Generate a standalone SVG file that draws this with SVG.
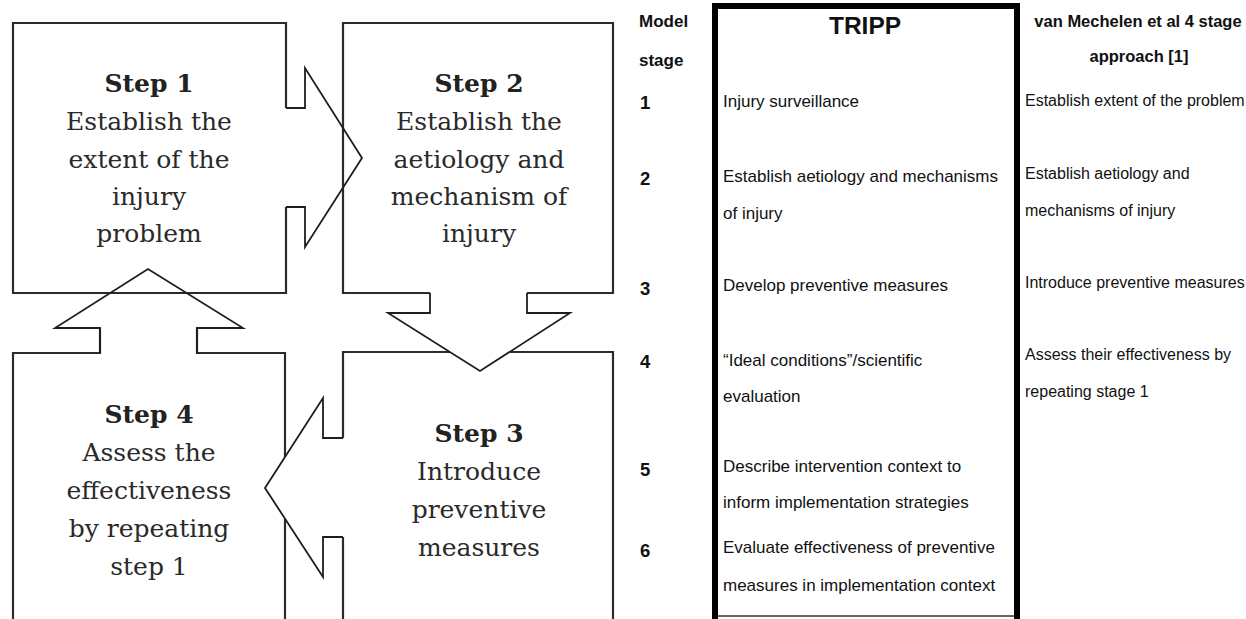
<svg xmlns="http://www.w3.org/2000/svg" width="1246" height="619" viewBox="0 0 1246 619">
<style>
.box{fill:none;stroke:#2b2b2b;stroke-width:2.2;stroke-linejoin:miter}
.arr{fill:none;stroke:#1e1e1e;stroke-width:1.8;stroke-linejoin:miter}
.st{font-family:"DejaVu Serif",serif;font-weight:bold;font-size:25px;fill:#222;text-anchor:middle}
.tx{font-family:"DejaVu Serif",serif;font-size:25px;fill:#2a2a2a;text-anchor:middle}
.hd{font-family:"Liberation Sans",Arial,sans-serif;font-weight:bold;font-size:16.5px;fill:#111}
.num{font-family:"Liberation Sans",Arial,sans-serif;font-weight:bold;font-size:17px;fill:#111}
.n{font-family:"Liberation Sans",Arial,sans-serif;font-weight:bold;font-size:18.5px;fill:#111}
.tr{font-family:"Liberation Sans",Arial,sans-serif;font-size:17px;fill:#111}
.vm{font-family:"Liberation Sans",Arial,sans-serif;font-size:16px;fill:#111}
</style>
<rect width="1246" height="619" fill="#fff"/>
<g id="step1">
<path class="box" d="M286,108 V23 H13 V293 H286 V207"/>
<text class="st" x="149" y="92">Step 1</text>
<text class="tx" x="149" y="130">Establish the</text>
<text class="tx" x="149" y="168">extent of the</text>
<text class="tx" x="149" y="205">injury</text>
<text class="tx" x="149" y="242">problem</text>
</g>
<g id="step2">
<path class="box" d="M430,293 H343 V23 H613 V293 H527"/>
<text class="st" x="479" y="92">Step 2</text>
<text class="tx" x="479" y="130">Establish the</text>
<text class="tx" x="479" y="168">aetiology and</text>
<text class="tx" x="479" y="205">mechanism of</text>
<text class="tx" x="479" y="242">injury</text>
</g>
<g id="step3">
<path class="box" d="M343,537 V622 M343,438 V352 H450 M510,352 H613 V622"/>
<text class="st" x="479" y="442">Step 3</text>
<text class="tx" x="479" y="480">Introduce</text>
<text class="tx" x="479" y="518">preventive</text>
<text class="tx" x="479" y="556">measures</text>
</g>
<g id="step4">
<path class="box" d="M100,328 V353 H13 V622 M197,328 V353 H285 V457 M285,519 V622"/>
<text class="st" x="149" y="423">Step 4</text>
<text class="tx" x="149" y="461">Assess the</text>
<text class="tx" x="149" y="499">effectiveness</text>
<text class="tx" x="149" y="537">by repeating</text>
<text class="tx" x="149" y="575">step 1</text>
</g>
<g id="connectors">
<path class="arr" d="M286,108 H305 V68 L362,158 L305,247 V207 H286"/>
<path class="arr" d="M430,293 V313 H388 L480,371 L570,313 H527 V293"/>
<path class="arr" d="M343,438 H323 V398 L265,488 L323,577 V537 H343"/>
<path class="arr" d="M100,353 V328 H55 L148,269 L243,328 H197 V353"/>
</g>
<g id="table-stage">
<text class="num" x="639" y="27">Model</text>
<text class="num" x="639" y="66">stage</text>
<text class="n" x="640" y="109">1</text>
<text class="n" x="640" y="185">2</text>
<text class="n" x="640" y="295">3</text>
<text class="n" x="640" y="368">4</text>
<text class="n" x="640" y="476">5</text>
<text class="n" x="640" y="557">6</text>
</g>
<g id="table-tripp">
<path d="M715,625 V6 H1017 V625" fill="none" stroke="#000" stroke-width="6"/>
<line x1="718" y1="616" x2="1014" y2="616" stroke="#333" stroke-width="1.5"/>
<text x="865" y="34" font-family="Liberation Sans,Arial,sans-serif" font-weight="bold" font-size="24.5" fill="#111" text-anchor="middle">TRIPP</text>
<text class="tr" x="723" y="107">Injury surveillance</text>
<text class="tr" x="723" y="182">Establish aetiology and mechanisms</text>
<text class="tr" x="723" y="219">of injury</text>
<text class="tr" x="723" y="291">Develop preventive measures</text>
<text class="tr" x="723" y="366">“Ideal conditions”/scientific</text>
<text class="tr" x="723" y="402">evaluation</text>
<text class="tr" x="723" y="472">Describe intervention context to</text>
<text class="tr" x="723" y="508">inform implementation strategies</text>
<text class="tr" x="723" y="553">Evaluate effectiveness of preventive</text>
<text class="tr" x="723" y="591">measures in implementation context</text>
</g>
<g id="table-vanmechelen">
<text class="hd" x="1138" y="27" text-anchor="middle">van Mechelen et al 4 stage</text>
<text class="hd" x="1139" y="62" text-anchor="middle">approach [1]</text>
<text class="vm" x="1025" y="106">Establish extent of the problem</text>
<text class="vm" x="1025" y="179">Establish aetiology and</text>
<text class="vm" x="1025" y="216">mechanisms of injury</text>
<text class="vm" x="1025" y="288">Introduce preventive measures</text>
<text class="vm" x="1025" y="360">Assess their effectiveness by</text>
<text class="vm" x="1025" y="397">repeating stage 1</text>
</g>
</svg>
